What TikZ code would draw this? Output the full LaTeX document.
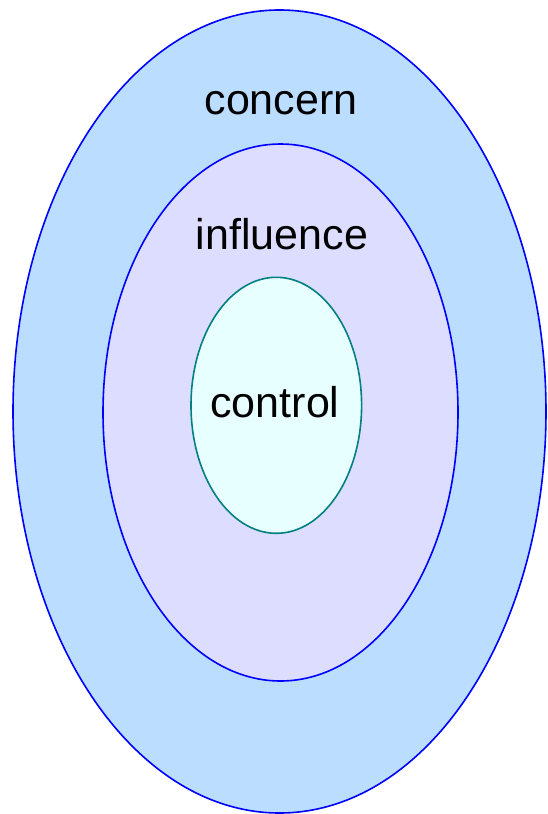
\documentclass[tikz,border=0pt]{standalone}
\usepackage{fontspec}
\setmainfont{Liberation Sans}
\definecolor{concernfill}{HTML}{BBDDFF}
\definecolor{influencefill}{HTML}{DDDDFF}
\definecolor{controlfill}{HTML}{E8FFFF}
\definecolor{controlline}{HTML}{008080}
\tikzset{
  ring/.style={line width=1.6pt},
  lbl/.style={anchor=base, inner sep=0pt, font=\fontsize{43}{50}\selectfont}
}
\begin{document}
\begin{tikzpicture}[x=1pt,y=-1pt]
\useasboundingbox (0,0) rectangle (547,814);
\draw[ring, draw=blue, fill=concernfill] (279.5,411.5) ellipse [x radius=266.5, y radius=401.5];
\draw[ring, draw=blue, fill=influencefill] (280.5,412.5) ellipse [x radius=177.5, y radius=268.5];
\draw[ring, draw=controlline, fill=controlfill] (276.3,405.3) ellipse [x radius=85.3, y radius=128];
\node[lbl] (concern) at (281,114) {concern};
\node[lbl] (influence) at (282,249) {influence};
\node[lbl] (control) at (275,417) {control};
\end{tikzpicture}
\end{document}
